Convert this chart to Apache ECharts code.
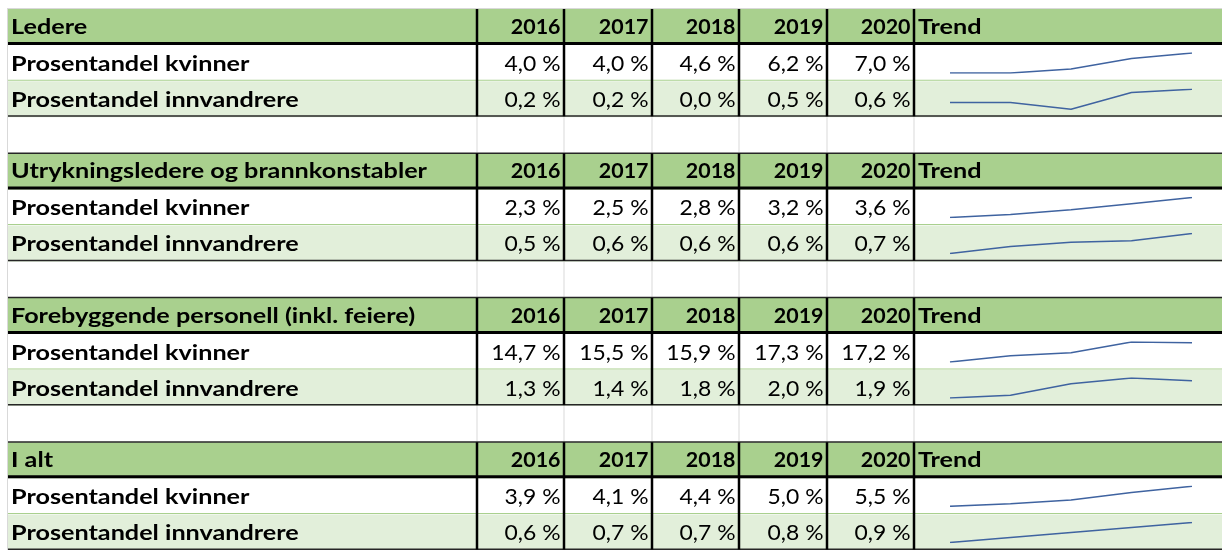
<!DOCTYPE html>
<html>
<head>
<meta charset="utf-8">
<script src="https://cdn.jsdelivr.net/npm/echarts@6/dist/echarts.min.js"></script>
<style>
  html, body { margin: 0; padding: 0; background: #fff; }
  #main { width: 1222px; height: 550px; }
</style>
</head>
<body>
<div id="main"></div>
<script>
// data
const years = ['2016', '2017', '2018', '2019', '2020'];
const sections = ['Ledere', 'Utrykningsledere og brannkonstabler', 'Forebyggende personell (inkl. feiere)', 'I alt'];
const rowLabels = ['Prosentandel kvinner', 'Prosentandel innvandrere'];
const trendLabel = 'Trend';
const kvinner = [
    [4.0, 4.0, 4.6, 6.2, 7.0],
    [2.3, 2.5, 2.8, 3.2, 3.6],
    [14.7, 15.5, 15.9, 17.3, 17.2],
    [3.9, 4.1, 4.4, 5.0, 5.5]
];
const innvandrere = [
    [0.2, 0.2, 0.0, 0.5, 0.6],
    [0.53, 0.58, 0.61, 0.62, 0.67],
    [1.3, 1.4, 1.8, 2.0, 1.9],
    [0.62, 0.68, 0.74, 0.8, 0.86]
];

// layout
const ROW_H = 36.1, TOP = 9;
const COLS = [8, 477, 564, 652, 739, 827, 914, 1222];
const GREEN = '#A9D08E', LIGHT = '#E2EFDA', GRIDLINE = '#D9D9D9', DARK = '#262626';
const FONT = 'Lato', FS = 21;
const LABEL_SX = 1.2, YEAR_SX = 1.02, VAL_SX = 1.09;
const SPARK_LEFT = 950, SPARK_W = 242, SPARK_OFF = 8, SPARK_H = 20;

function rowTop(k) { return TOP + k * ROW_H; }
function fmt(v) { return v.toFixed(1).replace('.', ',') + ' %'; }

const graphic = [];
function rect(x, y, w, h, fill, z) {
    graphic.push({type: 'rect', z: z || 0, silent: true, shape: {x: x, y: y, width: w, height: h}, style: {fill: fill}});
}
function text(str, x, y, align, bold, sx) {
    graphic.push({
        type: 'text', z: 20, silent: true, x: x, y: y, scaleX: sx, originX: 0, originY: 0,
        style: {
            text: str, x: 0, y: 0, align: align, textAlign: align,
            verticalAlign: 'middle', textVerticalAlign: 'middle',
            fill: '#000', fontFamily: FONT, fontSize: FS, fontWeight: bold ? 'bold' : 'normal'
        }
    });
}

// sheet gridlines
rect(7, 8, 1, 542, GRIDLINE);
rect(7, 8, 1215, 1, GRIDLINE);

const grids = [], xAxes = [], yAxes = [], series = [];

sections.forEach((name, s) => {
    const h = rowTop(4 * s), r1 = rowTop(4 * s + 1), r2 = rowTop(4 * s + 2), end = rowTop(4 * s + 3);
    const w = COLS[7] - COLS[0];
    rect(COLS[0], h, w, ROW_H, GREEN, 1);
    rect(COLS[0], r2, w, ROW_H, LIGHT, 1);
    rect(COLS[0], r2 - 1.5, w, 1, GREEN, 2);
    rect(COLS[0], r1 - 3, w, 3, '#000', 3);
    rect(COLS[0], end - 2, w, 1.5, DARK, 3);
    if (s > 0) rect(COLS[0], h - 1, w, 1.5, DARK, 3);
    for (let c = 1; c <= 6; c++) {
        rect(COLS[c] - 1.25, h, 2.5, end - h - 1, '#000', 4);
        if (s < sections.length - 1) rect(COLS[c] - 0.5, end, 1, ROW_H - 1, GRIDLINE, 1);
    }

    // header texts
    const hc = h + (ROW_H - 3) / 2 + 1.5;
    text(name, COLS[0] + 3, hc, 'left', true, LABEL_SX);
    years.forEach((y, i) => text(y, COLS[i + 2] - 3.5, hc, 'right', true, YEAR_SX));
    text(trendLabel, COLS[6] + 4, hc, 'left', true, LABEL_SX);

    // data rows
    [kvinner[s], innvandrere[s]].forEach((vals, j) => {
        const top = rowTop(4 * s + 1 + j);
        const cy = top + ROW_H / 2 + 1;
        text(rowLabels[j], COLS[0] + 3, cy, 'left', true, LABEL_SX);
        vals.forEach((v, i) => text(fmt(v), COLS[i + 2] - 3.5, cy, 'right', false, VAL_SX));

        const gi = grids.length;
        grids.push({left: SPARK_LEFT, width: SPARK_W, top: top + SPARK_OFF, height: SPARK_H, containLabel: false});
        xAxes.push({gridIndex: gi, type: 'category', data: years, boundaryGap: false, show: false});
        yAxes.push({gridIndex: gi, type: 'value', min: 'dataMin', max: 'dataMax', show: false, splitLine: {show: false}});
        series.push({
            type: 'line', xAxisIndex: gi, yAxisIndex: gi, data: vals, symbol: 'none', silent: true,
            z: 30, lineStyle: {color: '#3F63A0', width: 1.5}
        });
    });
});

const myChart = echarts.init(document.getElementById('main'));
myChart.setOption({
    animation: false,
    backgroundColor: '#fff',
    grid: grids,
    xAxis: xAxes,
    yAxis: yAxes,
    series: series,
    graphic: {elements: graphic}
});
</script>
</body>
</html>
